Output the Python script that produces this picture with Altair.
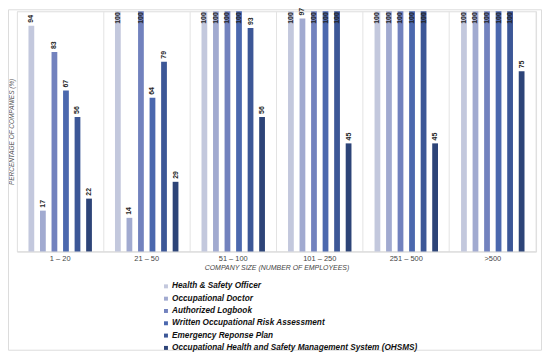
import altair as alt
import pandas as pd

groups = ["1 – 20", "21 – 50", "51 – 100", "101 –  250", "251 – 500", ">500"]
series = [
    "Health & Safety Officer",
    "Occupational Doctor",
    "Authorized Logbook",
    "Written Occupational Risk Assessment",
    "Emergency Reponse Plan",
    "Occupational Health and Safety Management System (OHSMS)",
]
colors = ["#c3c8dd", "#a1aad0", "#7282be", "#4b68ae", "#3c5797", "#2d4478"]

values = {
    "1 – 20":     [94, 17, 83, 67, 56, 22],
    "21 – 50":    [100, 14, 100, 64, 79, 29],
    "51 – 100":   [100, 100, 100, 100, 93, 56],
    "101 –  250": [100, 97, 100, 100, 100, 45],
    "251 – 500":  [100, 100, 100, 100, 100, 45],
    ">500":       [100, 100, 100, 100, 100, 75],
}

rows = []
for g in groups:
    for s, v in zip(series, values[g]):
        rows.append({"group": g, "series": s, "value": v})
df = pd.DataFrame(rows)

FONT = "Liberation Sans"
W, H = 523, 242

x_enc = alt.X("group:N", sort=groups,
              scale=alt.Scale(paddingInner=0, paddingOuter=0),
              axis=alt.Axis(title="COMPANY SIZE (NUMBER OF EMPLOYEES)",
                            titleFont=FONT, titleFontSize=7, titleFontStyle="italic",
                            titleFontWeight="normal", titleColor="#444444",
                            titlePadding=2, labelFont=FONT, labelFontSize=7.5,
                            labelColor="#444444", labelPadding=3, labelAngle=0,
                            ticks=False, domain=True, domainColor="#d9d9d9",
                            grid=True, gridColor="#e3e3e3", bandPosition=0))
xo_enc = alt.XOffset("series:N", sort=series,
                     scale=alt.Scale(paddingInner=0.5, paddingOuter=1))
y_enc = alt.Y("value:Q", scale=alt.Scale(domain=[0, 100], nice=False),
              axis=alt.Axis(title="PERCENTAGE OF COMPANIES (%)",
                            titleFont=FONT, titleFontSize=6.5, titleFontStyle="italic",
                            titleFontWeight="normal", titleColor="#555555",
                            titlePadding=2, labels=False, ticks=False,
                            domain=False, grid=False))

base = alt.Chart(df)

bars = base.mark_bar().encode(
    x=x_enc, xOffset=xo_enc, y=y_enc,
    color=alt.Color("series:N", sort=series,
                    scale=alt.Scale(domain=series, range=colors),
                    legend=alt.Legend(title=None, orient="none", legendX=146, legendY=273,
                                      symbolType="square", symbolSize=16,
                                      symbolStrokeWidth=0, labelFont=FONT,
                                      labelFontSize=8.3, labelFontWeight="bold",
                                      labelFontStyle="italic", labelColor="#111111",
                                      rowPadding=3.4, padding=0, labelOffset=2,
                                      labelLimit=400)),
)

above = base.transform_filter("datum.value < 98").mark_text(
    angle=270, align="left", baseline="middle", dx=3,
    font=FONT, fontSize=7, fontWeight="bold", color="#222222"
).encode(x=alt.X("group:N", sort=groups), xOffset=alt.XOffset("series:N", sort=series),
         y="value:Q", text="value:Q")

inside = base.transform_filter("datum.value >= 98").mark_text(
    angle=270, align="right", baseline="middle", dx=-1,
    font=FONT, fontSize=7, fontWeight="bold", color="#222222"
).encode(x=alt.X("group:N", sort=groups), xOffset=alt.XOffset("series:N", sort=series),
         y="value:Q", text="value:Q")

right_line = alt.Chart(alt.Data(values=[{}])).mark_rule(color="#e3e3e3").encode(
    x=alt.value(W), y=alt.value(0), y2=alt.value(H))

frame = alt.Chart(alt.Data(values=[{}])).mark_rect(
    fill=None, fillOpacity=0, stroke="#dcdcdc", strokeWidth=1).encode(
    x=alt.value(-8.5), x2=alt.value(528.5), y=alt.value(-1.5), y2=alt.value(341.5))

chart = alt.layer(frame, right_line, bars, above, inside).properties(
    width=W, height=H,
    autosize=alt.AutoSizeParams(type="none"),
    padding={"left": 9, "top": 2, "right": 6, "bottom": 100},
).configure_view(stroke=None).configure(background="white")

chart.save("out.html", embed_options={"renderer": "svg", "actions": False})
